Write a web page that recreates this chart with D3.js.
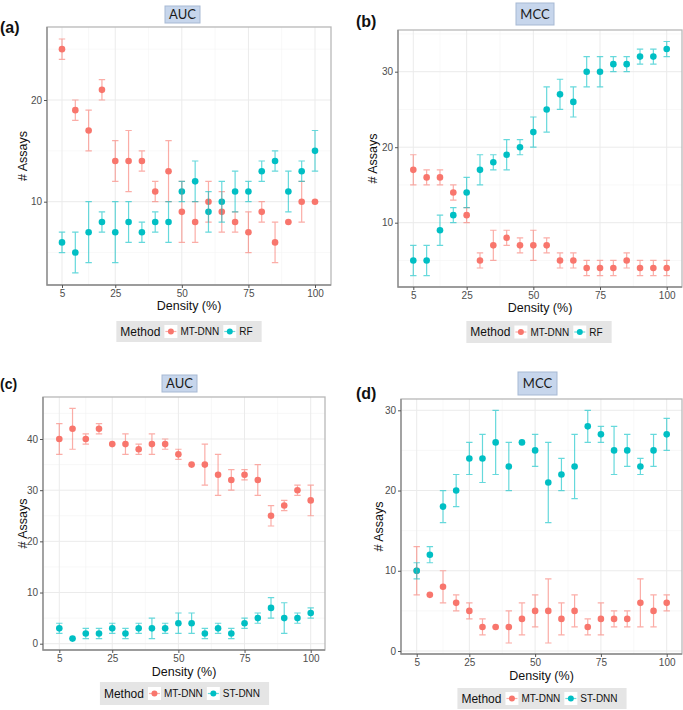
<!DOCTYPE html>
<html>
<head>
<meta charset="utf-8">
<script src="https://cdn.jsdelivr.net/npm/d3@7"></script>
<style>
  html, body { margin: 0; padding: 0; background: #ffffff; }
  svg { display: block; font-family: "Liberation Sans", Arial, sans-serif; }
</style>
</head>
<body>
<svg id="chart" width="683" height="710"></svg>
<script>
// ---------------- DATA ----------------
const density = [5, 10, 15, 20, 25, 30, 35, 40, 45, 50, 55, 60, 65, 70, 75, 80, 85, 90, 95, 100];
const xTickValues = [5, 25, 50, 75, 100];

// (a) AUC : MT-DNN vs RF
const aMtdnn     = [25, 19, 17, 21, 14, 14, 14, 11, 13, 9, 8, 10, 9, 8, 7, 9, 6, 8, 10, 10];
const aMtdnnLow  = [24, 18, 15, 20, 12, 11, 13, 10, 10, 6, 6, 8, 7, 7, 5, 8, 4, 8, 8, 10];
const aMtdnnHigh = [26, 20, 19, 22, 16, 17, 15, 12, 16, 12, 10, 12, 11, 9, 9, 10, 8, 8, 12, 10];
const aRf        = [6, 5, 7, 8, 7, 8, 7, 8, 8, 11, 12, 9, 10, 11, 11, 13, 14, 11, 13, 15];
const aRfLow     = [5, 3, 4, 7, 4, 6, 6, 7, 6, 10, 10, 7, 8, 9, 10, 12, 13, 9, 12, 13];
const aRfHigh    = [7, 7, 10, 9, 10, 10, 8, 9, 10, 12, 14, 11, 12, 13, 12, 14, 15, 13, 14, 17];
const aYTicks = [10, 20];

// (b) MCC : MT-DNN vs RF
const bMtdnn     = [17, 16, 16, 14, 11, 5, 7, 8, 7, 7, 7, 5, 5, 4, 4, 4, 5, 4, 4, 4];
const bMtdnnLow  = [15, 15, 15, 13, 10, 4, 5, 7, 6, 5, 6, 4, 4, 3, 3, 3, 4, 3, 3, 3];
const bMtdnnHigh = [19, 17, 17, 15, 12, 6, 9, 9, 8, 9, 8, 6, 6, 5, 5, 5, 6, 5, 5, 5];
const bRf        = [5, 5, 9, 11, 14, 17, 18, 19, 20, 22, 25, 27, 26, 30, 30, 31, 31, 32, 32, 33];
const bRfLow     = [3, 3, 7, 10, 12, 15, 17, 17, 19, 20, 22, 25, 24, 28, 28, 30, 30, 31, 31, 32];
const bRfHigh    = [7, 7, 11, 12, 16, 19, 19, 21, 21, 24, 28, 29, 28, 32, 32, 32, 32, 33, 33, 34];
const bYTicks = [10, 20, 30];

// (c) AUC : MT-DNN vs ST-DNN
const cMtdnn     = [40, 42, 40, 42, 39, 39, 38, 39, 39, 37, 35, 35, 33, 32, 33, 32, 25, 27, 30, 28];
const cMtdnnLow  = [37, 38, 39, 41, 39, 37, 37, 37, 38, 36, 35, 31, 29, 30, 32, 29, 23, 26, 29, 25];
const cMtdnnHigh = [43, 46, 41, 43, 39, 41, 39, 41, 40, 38, 35, 39, 37, 34, 34, 35, 27, 28, 31, 31];
const cStdnn     = [3, 1, 2, 2, 3, 2, 3, 3, 3, 4, 4, 2, 3, 2, 4, 5, 7, 5, 5, 6];
const cStdnnLow  = [2, 1, 1, 1, 2, 1, 2, 1, 2, 2, 2, 1, 2, 1, 3, 4, 5, 2, 4, 5];
const cStdnnHigh = [4, 1, 3, 3, 4, 3, 4, 5, 4, 6, 6, 3, 4, 3, 5, 6, 9, 8, 6, 7];
const cYTicks = [0, 10, 20, 30, 40];

// (d) MCC : MT-DNN vs ST-DNN
const dMtdnn     = [10, 7, 8, 6, 5, 3, 3, 3, 4, 5, 5, 4, 5, 3, 4, 4, 4, 6, 5, 6];
const dMtdnnLow  = [7, 7, 6, 5, 4, 2, 3, 1, 2, 3, 1, 2, 3, 2, 2, 3, 3, 3, 3, 5];
const dMtdnnHigh = [13, 7, 10, 7, 6, 4, 3, 5, 6, 7, 9, 6, 7, 4, 6, 5, 5, 9, 7, 7];
const dStdnn     = [10, 12, 18, 20, 24, 24, 26, 23, 26, 25, 21, 22, 23, 28, 27, 25, 25, 23, 25, 27];
const dStdnnLow  = [9, 11, 16, 18, 22, 21, 22, 20, 26, 23, 16, 20, 19, 26, 26, 22, 23, 22, 23, 25];
const dStdnnHigh = [11, 13, 20, 22, 26, 27, 30, 26, 26, 27, 26, 24, 27, 30, 28, 28, 27, 24, 27, 29];
const dYTicks = [0, 10, 20, 30];

const seriesNames = ["MT-DNN", "RF", "ST-DNN"];
const colors = { "MT-DNN": "#F8766D", "RF": "#00BFC4", "ST-DNN": "#00BFC4" };

// ---------------- LAYOUT ----------------
const panels = [
  { label: "(a)", labelX: 0, labelY: 33, labelSize: 16, strip: "AUC", stripBox: [165, 6, 35, 17],
    frame: [47, 27, 331, 285], xMap: [62, 315], yMap: [[20, 100], [10, 201.7]],
    yTicks: aYTicks, yMinor: [5, 15, 25], yTitleX: 23, xTitleY: 310,
    legend: { cx: 189, y: 321, h: 21 },
    series: [
      { name: "MT-DNN", v: aMtdnn, lo: aMtdnnLow, hi: aMtdnnHigh },
      { name: "RF", v: aRf, lo: aRfLow, hi: aRfHigh }] },
  { label: "(b)", labelX: 356, labelY: 27, labelSize: 16, strip: "MCC", stripBox: [516, 3, 38, 22],
    frame: [398, 30, 682, 287], xMap: [413.3, 666.7], yMap: [[30, 71.7], [10, 222.7]],
    yTicks: bYTicks, yMinor: [5, 15, 25, 35], yTitleX: 373, xTitleY: 312,
    legend: { cx: 539, y: 321, h: 22 },
    series: [
      { name: "MT-DNN", v: bMtdnn, lo: bMtdnnLow, hi: bMtdnnHigh },
      { name: "RF", v: bRf, lo: bRfLow, hi: bRfHigh }] },
  { label: "(c)", labelX: 0, labelY: 389, labelSize: 14, strip: "AUC", stripBox: [162, 375, 35, 17],
    frame: [43, 397, 325, 650], xMap: [59.3, 310.7], yMap: [[40, 439], [0, 643.7]],
    yTicks: cYTicks, yMinor: [5, 15, 25, 35, 45], yTitleX: 23, xTitleY: 676,
    legend: { cx: 184.5, y: 682, h: 23 },
    series: [
      { name: "MT-DNN", v: cMtdnn, lo: cMtdnnLow, hi: cMtdnnHigh },
      { name: "ST-DNN", v: cStdnn, lo: cStdnnLow, hi: cStdnnHigh }] },
  { label: "(d)", labelX: 356, labelY: 399, labelSize: 16, strip: "MCC", stripBox: [518, 372, 39, 23],
    frame: [401, 399, 682, 654], xMap: [416.7, 666.7], yMap: [[30, 410.3], [0, 651]],
    yTicks: dYTicks, yMinor: [5, 15, 25], yTitleX: 379, xTitleY: 680,
    legend: { cx: 542, y: 688, h: 21 },
    series: [
      { name: "MT-DNN", v: dMtdnn, lo: dMtdnnLow, hi: dMtdnnHigh },
      { name: "ST-DNN", v: dStdnn, lo: dStdnnLow, hi: dStdnnHigh }] }
];

const svg = d3.select("#chart");
const xMinor = [15, 37.5, 62.5, 87.5];

panels.forEach(p => {
  const g = svg.append("g");
  const [fx0, fy0, fx1, fy1] = p.frame;
  const x = d3.scaleLinear().domain([5, 100]).range(p.xMap);
  const y = d3.scaleLinear().domain([p.yMap[0][0], p.yMap[1][0]]).range([p.yMap[0][1], p.yMap[1][1]]);

  g.append("rect").attr("x", fx0).attr("y", fy0).attr("width", fx1 - fx0).attr("height", fy1 - fy0)
    .attr("fill", "#ffffff");

  // minor grid
  xMinor.forEach(v => g.append("line").attr("x1", x(v)).attr("x2", x(v)).attr("y1", fy0).attr("y2", fy1)
    .attr("stroke", "#f4f4f4").attr("stroke-width", 0.6));
  p.yMinor.filter(v => y(v) > fy0 && y(v) < fy1).forEach(v => g.append("line")
    .attr("x1", fx0).attr("x2", fx1).attr("y1", y(v)).attr("y2", y(v))
    .attr("stroke", "#f4f4f4").attr("stroke-width", 0.6));
  // major grid
  xTickValues.forEach(v => g.append("line").attr("x1", x(v)).attr("x2", x(v)).attr("y1", fy0).attr("y2", fy1)
    .attr("stroke", "#ebebeb").attr("stroke-width", 1));
  p.yTicks.forEach(v => g.append("line").attr("x1", fx0).attr("x2", fx1).attr("y1", y(v)).attr("y2", y(v))
    .attr("stroke", "#ebebeb").attr("stroke-width", 1));

  // points, then semi-transparent error bars
  p.series.forEach(s => {
    g.append("g").selectAll("circle").data(density).join("circle")
      .attr("cx", d => x(d)).attr("cy", (d, i) => y(s.v[i])).attr("r", 3.3)
      .attr("fill", colors[s.name]);
  });
  p.series.forEach(s => {
    const eb = g.append("g").attr("stroke", colors[s.name]).attr("stroke-opacity", 0.6)
      .attr("stroke-width", 1.2).attr("fill", "none");
    density.forEach((d, i) => {
      const lo = s.lo[i], hi = s.hi[i];
      const cx = x(d);
      eb.append("path").attr("d",
        `M${cx - 3.2},${y(hi)}H${cx + 3.2}M${cx},${y(hi)}V${y(lo)}M${cx - 3.2},${y(lo)}H${cx + 3.2}`);
    });
  });

  // frame
  g.append("rect").attr("x", fx0).attr("y", fy0).attr("width", fx1 - fx0).attr("height", fy1 - fy0)
    .attr("fill", "none").attr("stroke", "#b8b8b8").attr("stroke-width", 1.3);
  g.append("path").attr("d", `M${fx0},${fy0}V${fy1}H${fx1}`).attr("fill", "none")
    .attr("stroke", "#8a8a8a").attr("stroke-width", 1.3);

  // axes
  const xa = g.append("g").attr("transform", `translate(0,${fy1})`)
    .call(d3.axisBottom(x).tickValues(xTickValues).tickSize(3).tickPadding(2).tickSizeOuter(0));
  xa.select(".domain").remove();
  const ya = g.append("g").attr("transform", `translate(${fx0},0)`)
    .call(d3.axisLeft(y).tickValues(p.yTicks).tickSize(3).tickPadding(2).tickSizeOuter(0));
  ya.select(".domain").remove();
  [xa, ya].forEach(a => {
    a.selectAll("text").attr("fill", "#4d4d4d").style("font-size", "10px")
      .style("font-family", "'Liberation Sans', Arial, sans-serif");
    a.selectAll("line").attr("stroke", "#555");
  });

  // axis titles
  g.append("text").attr("x", (fx0 + fx1) / 2).attr("y", p.xTitleY).attr("text-anchor", "middle")
    .style("font-size", "12.5px").attr("fill", "#111").text("Density (%)");
  g.append("text").attr("transform", `translate(${p.yTitleX + 4},${(fy0 + fy1) / 2}) rotate(-90)`)
    .attr("text-anchor", "middle").style("font-size", "12.5px").attr("fill", "#111").text("# Assays");

  // strip label
  const [sx, sy, sw, sh] = p.stripBox;
  g.append("rect").attr("x", sx).attr("y", sy).attr("width", sw).attr("height", sh)
    .attr("fill", "#c7d6ec").attr("stroke", "#a7b9d3").attr("stroke-width", 1);
  g.append("text").attr("x", sx + sw / 2).attr("y", sy + sh / 2 + 4.5).attr("text-anchor", "middle")
    .style("font-family", "Lato, 'Open Sans', sans-serif").style("font-size", "13px").attr("fill", "#1a1a1a")
    .text(p.strip);

  // panel label
  g.append("text").attr("x", p.labelX).attr("y", p.labelY).style("font-weight", "bold")
    .style("font-size", p.labelSize + "px").attr("fill", "#111").text(p.label);

  // legend
  const L = p.legend;
  const lg = g.append("g");
  const bg = lg.append("rect").attr("y", L.y).attr("height", L.h).attr("fill", "#e5e5e5");
  const cy = L.y + L.h / 2;
  let cx = 0;
  const t0 = lg.append("text").attr("x", cx).attr("y", cy + 4.3).style("font-size", "12px")
    .attr("fill", "#111").text("Method");
  cx += t0.node().getComputedTextLength() + 4;
  p.series.forEach(s => {
    const k = 13;
    lg.append("rect").attr("x", cx).attr("y", cy - k / 2).attr("width", k).attr("height", k).attr("fill", "#fff");
    lg.append("line").attr("x1", cx + 1).attr("x2", cx + k - 1).attr("y1", cy).attr("y2", cy)
      .attr("stroke", colors[s.name]).attr("stroke-opacity", 0.6).attr("stroke-width", 1.2);
    lg.append("circle").attr("cx", cx + k / 2).attr("cy", cy).attr("r", 3).attr("fill", colors[s.name]);
    cx += k + 3;
    const t = lg.append("text").attr("x", cx).attr("y", cy + 3.6).style("font-size", "10px")
      .attr("fill", "#111").text(s.name);
    cx += t.node().getComputedTextLength() + 4;
  });
  const totalW = cx + 1;
  const pad = 4;
  const left = L.cx - (totalW + pad * 2) / 2;
  bg.attr("x", -pad).attr("width", totalW + pad * 2);
  lg.attr("transform", `translate(${left + pad},0)`);
});
</script>
</body>
</html>
